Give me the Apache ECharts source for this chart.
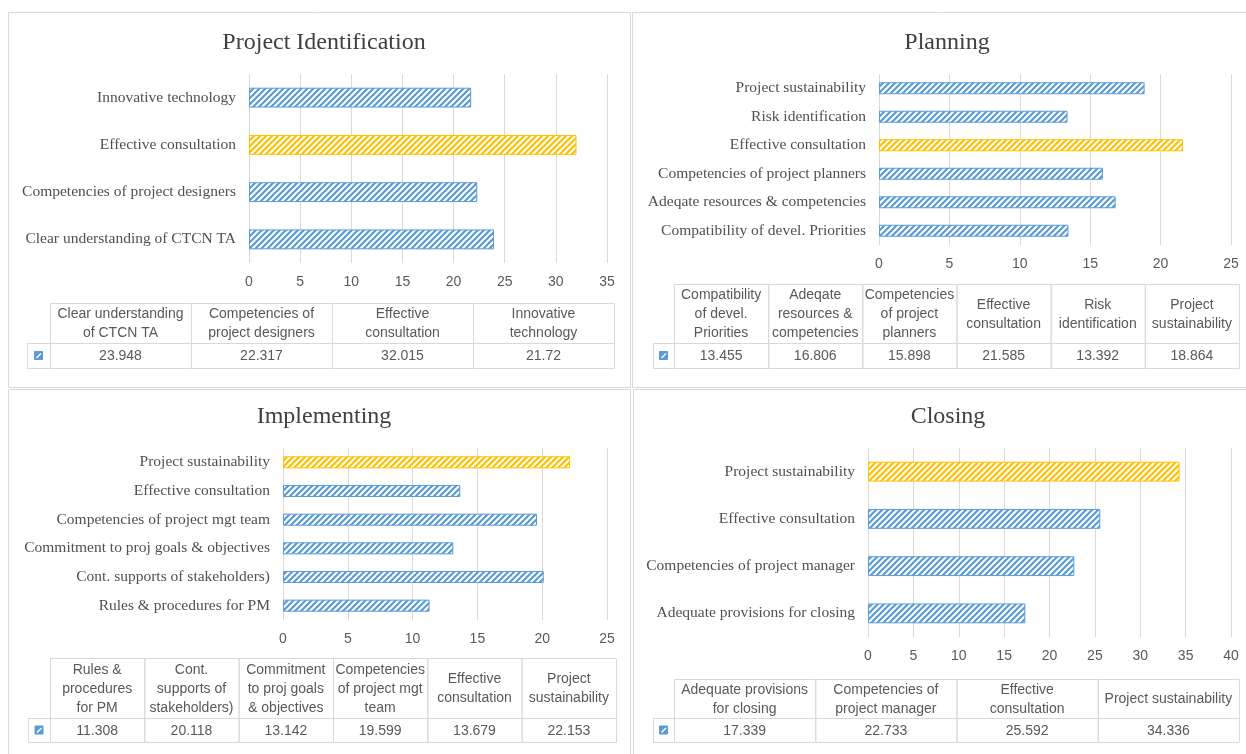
<!DOCTYPE html>
<html>
<head>
<meta charset="utf-8">
<title>Project stages</title>
<script src="https://cdn.jsdelivr.net/npm/echarts@6/dist/echarts.min.js"></script>
<style>
  html, body { margin: 0; padding: 0; background: #fff; }
  #chart { width: 1246px; height: 754px; }
</style>
</head>
<body>
<div id="chart"></div>
<script>
// 各阶段的数据
const titles = ['Project Identification', 'Planning', 'Implementing', 'Closing']

const idCats = ['Clear understanding of CTCN TA', 'Competencies of project designers', 'Effective consultation', 'Innovative technology']
const idVals = [23.948, 22.317, 32.015, 21.72]
const idHead = ['Clear understanding\nof CTCN TA', 'Competencies of\nproject designers', 'Effective\nconsultation', 'Innovative\ntechnology']
const idCells = ['23.948', '22.317', '32.015', '21.72']

const planCats = ['Compatibility of devel. Priorities', 'Adeqate resources & competencies', 'Competencies of project planners', 'Effective consultation', 'Risk identification', 'Project sustainability']
const planVals = [13.455, 16.806, 15.898, 21.585, 13.392, 18.864]
const planHead = ['Compatibility\nof devel.\nPriorities', 'Adeqate\nresources &\ncompetencies', 'Competencies\nof project\nplanners', 'Effective\nconsultation', 'Risk\nidentification', 'Project\nsustainability']
const planCells = ['13.455', '16.806', '15.898', '21.585', '13.392', '18.864']

const implCats = ['Rules & procedures for PM', 'Cont. supports of stakeholders)', 'Commitment to proj goals & objectives', 'Competencies of project mgt team', 'Effective consultation', 'Project sustainability']
const implVals = [11.308, 20.118, 13.142, 19.599, 13.679, 22.153]
const implHead = ['Rules &\nprocedures\nfor PM', 'Cont.\nsupports of\nstakeholders)', 'Commitment\nto proj goals\n& objectives', 'Competencies\nof project mgt\nteam', 'Effective\nconsultation', 'Project\nsustainability']
const implCells = ['11.308', '20.118', '13.142', '19.599', '13.679', '22.153']

const closeCats = ['Adequate provisions for closing', 'Competencies of project manager', 'Effective consultation', 'Project sustainability']
const closeVals = [17.339, 22.733, 25.592, 34.336]
const closeHead = ['Adequate provisions\nfor closing', 'Competencies of\nproject manager', 'Effective\nconsultation', 'Project sustainability']
const closeCells = ['17.339', '22.733', '25.592', '34.336']

const axisMax = [35, 25, 25, 40]

// 布局（只放位置和尺寸）
const panels = [
  { box: [8, 12, 622, 375], grid: [249, 74, 358, 189], titleY: 26, key: 27, tl: 50, tr: 614, ht: 303, hb: 343, rb: 368 },
  { box: [632, 12, 620, 375], grid: [879, 74, 352, 171], titleY: 26, key: 653, tl: 674, tr: 1239, ht: 284, hb: 343, rb: 368 },
  { box: [8, 389, 622, 370], grid: [283, 448, 324, 172], titleY: 400, key: 28, tl: 50, tr: 616, ht: 658, hb: 718, rb: 742 },
  { box: [633, 389, 620, 370], grid: [868, 448, 363, 189], titleY: 400, key: 653, tl: 674, tr: 1239, ht: 679, hb: 718, rb: 742 }
]
const data = [
  { cats: idCats, vals: idVals, head: idHead, cells: idCells },
  { cats: planCats, vals: planVals, head: planHead, cells: planCells },
  { cats: implCats, vals: implVals, head: implHead, cells: implCells },
  { cats: closeCats, vals: closeVals, head: closeHead, cells: closeCells }
]

const BLUE = '#5B9BD5'
const GOLD = '#FFC000'
const GRIDC = '#d9d9d9'
const TXT = '#595959'
const SANS = '"Liberation Sans", Arial, sans-serif'
const SERIF = '"Liberation Serif", "Times New Roman", serif'

// 斜线填充
function hatch(color) {
  const s = 6
  const c = document.createElement('canvas')
  c.width = s
  c.height = s
  const ctx = c.getContext('2d')
  ctx.fillStyle = '#fff'
  ctx.fillRect(0, 0, s, s)
  ctx.strokeStyle = color
  ctx.lineWidth = 2.2
  ctx.beginPath()
  ctx.moveTo(0, s); ctx.lineTo(s, 0)
  ctx.moveTo(-2, 2); ctx.lineTo(2, -2)
  ctx.moveTo(s - 2, s + 2); ctx.lineTo(s + 2, s - 2)
  ctx.stroke()
  return { image: c, repeat: 'repeat' }
}
const blueFill = hatch(BLUE)
const goldFill = hatch(GOLD)

const chart = echarts.init(document.getElementById('chart'))

const grids = [], xAxes = [], yAxes = [], series = [], graphics = []
const titleOpts = []

panels.forEach((p, i) => {
  const d = data[i]
  const [gl, gt, gw, gh] = p.grid
  grids.push({ left: gl, top: gt, width: gw, height: gh, containLabel: false, outerBoundsMode: 'none' })
  xAxes.push({
    type: 'value', gridIndex: i, min: 0, max: axisMax[i], interval: 5,
    axisLine: { show: false }, axisTick: { show: false },
    splitLine: { lineStyle: { color: GRIDC, width: 1 } },
    axisLabel: { color: TXT, fontFamily: SANS, fontSize: 14, margin: 12 }
  })
  yAxes.push({
    type: 'category', gridIndex: i, data: d.cats,
    axisLine: { show: false }, axisTick: { show: false },
    axisLabel: { color: '#505050', fontFamily: SERIF, fontSize: 15.5, margin: 13 }
  })
  const top = Math.max(...d.vals)
  series.push({
    type: 'bar', xAxisIndex: i, yAxisIndex: i, barWidth: '42%',
    silent: true, animation: false,
    data: d.vals.map(v => ({
      value: v,
      itemStyle: v === top
        ? { color: goldFill, borderColor: GOLD, borderWidth: 1 }
        : { color: blueFill, borderColor: BLUE, borderWidth: 1 }
    }))
  })
  titleOpts.push({
    text: titles[i], left: p.box[0] + p.box[2] / 2, top: p.titleY, textAlign: 'center',
    textStyle: { fontFamily: SERIF, fontSize: 24, fontWeight: 'normal', color: '#404040' }
  })

  // 外框
  graphics.push({
    type: 'rect', silent: true, z: -1,
    shape: { x: p.box[0] + 0.5, y: p.box[1] + 0.5, width: p.box[2], height: p.box[3] },
    style: { fill: 'none', stroke: GRIDC, lineWidth: 1 }
  })

  // 数据表
  const n = d.cells.length
  const colW = (p.tr - p.tl) / n
  for (let k = 0; k < n; k++) {
    const x = p.tl + k * colW
    graphics.push({
      type: 'rect', silent: true,
      shape: { x: x + 0.5, y: p.ht + 0.5, width: colW, height: p.hb - p.ht },
      style: { fill: 'none', stroke: GRIDC, lineWidth: 1 }
    })
    graphics.push({
      type: 'rect', silent: true,
      shape: { x: x + 0.5, y: p.hb + 0.5, width: colW, height: p.rb - p.hb },
      style: { fill: 'none', stroke: GRIDC, lineWidth: 1 }
    })
    graphics.push({
      type: 'text', silent: true,
      style: {
        text: d.head[k], x: x + colW / 2, y: (p.ht + p.hb) / 2 + 1,
        align: 'center', verticalAlign: 'middle', lineHeight: 19,
        fontFamily: SANS, fontSize: 14, fill: TXT
      }
    })
    graphics.push({
      type: 'text', silent: true,
      style: {
        text: d.cells[k], x: x + colW / 2, y: (p.hb + p.rb) / 2 + 1,
        align: 'center', verticalAlign: 'middle',
        fontFamily: SANS, fontSize: 14, fill: TXT
      }
    })
  }
  // 图例键
  graphics.push({
    type: 'rect', silent: true,
    shape: { x: p.key + 0.5, y: p.hb + 0.5, width: p.tl - p.key, height: p.rb - p.hb },
    style: { fill: 'none', stroke: GRIDC, lineWidth: 1 }
  })
  const kx = (p.key + p.tl) / 2, ky = (p.hb + p.rb) / 2
  graphics.push({
    type: 'rect', silent: true,
    shape: { x: kx - 4, y: ky - 4, width: 8, height: 8 },
    style: { fill: BLUE, stroke: BLUE, lineWidth: 1 }
  })
  graphics.push({
    type: 'line', silent: true,
    shape: { x1: kx - 2, y1: ky + 2.5, x2: kx + 2.5, y2: ky - 2 },
    style: { stroke: '#fff', lineWidth: 1.4 }
  })
})

chart.setOption({
  backgroundColor: '#fff',
  animation: false,
  title: titleOpts,
  grid: grids,
  xAxis: xAxes,
  yAxis: yAxes,
  series: series,
  graphic: graphics
})

window.addEventListener('resize', () => chart.resize())
</script>
</body>
</html>
